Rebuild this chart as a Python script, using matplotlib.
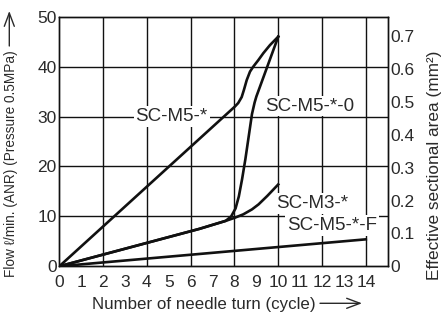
import matplotlib as mpl

mpl.use("Agg")
import matplotlib.pyplot as plt
from matplotlib.patches import FancyArrowPatch

mpl.rcParams.update({"font.family": ["Liberation Sans", "DejaVu Sans"], "font.size": 12.5})

# needle turns / flow (l/min ANR)
m5_x = [0, 8.02, 8.17, 8.33, 8.43, 8.56, 8.71, 8.86, 9.09, 9.32, 9.62, 10.0]
m5_y = [0, 32.0, 32.7, 33.9, 35.3, 37.3, 39.0, 40.0, 41.3, 42.7, 44.3, 46.0]

m50_x = [0, 6.4, 7.6, 7.85, 8.05, 8.2, 8.35, 8.5, 8.65, 8.8, 8.92, 9.0, 10.0]
m50_y = [0, 7.5, 9.1, 10.0, 11.6, 14.0, 17.5, 21.5, 26.0, 30.5, 32.8, 34.0, 46.0]

m3_x = [0, 6.4, 7.6, 8.0, 8.4, 8.8, 9.1, 9.5, 10.0]
m3_y = [0, 7.5, 9.1, 9.7, 10.4, 11.4, 12.4, 14.1, 16.4]

m5f_x = [0, 14.0]
m5f_y = [0, 5.4]

labels = ["SC-M5-*", "SC-M5-*-0", "SC-M3-*", "SC-M5-*-F"]
label_x = [5.13, 11.42, 11.54, 12.45]
label_y = [30.0, 32.1, 12.6, 8.1]

flow_ticks = [0, 10, 20, 30, 40, 50]
area_ticks = [0, 0.1, 0.2, 0.3, 0.4, 0.5, 0.6, 0.7]
turn_ticks = list(range(15))

ink = "#111111"
txt = "#2a2a2a"

fig = plt.figure(figsize=(4.43, 3.18), dpi=100, facecolor="white")
ax = fig.add_axes([0.1339, 0.1626, 0.7413, 0.7849])
ax.set_xlim(0, 15)
ax.set_ylim(0, 50)

for v in range(2, 15, 2):
    ax.axvline(v, color=ink, lw=1.0, zorder=1)
for v in flow_ticks[1:-1]:
    ax.axhline(v, color=ink, lw=1.0, zorder=1)

for xs, ys in [(m5_x, m5_y), (m50_x, m50_y), (m3_x, m3_y), (m5f_x, m5f_y)]:
    ax.plot(xs, ys, color=ink, lw=1.9, solid_joinstyle="round", zorder=3)

for s, x, y in zip(labels, label_x, label_y):
    ax.text(x, y, s, ha="center", va="center", color=txt, fontsize=13.5, zorder=4,
            bbox=dict(boxstyle="square,pad=0.1", fc="white", ec="none"))

ax.set_xticks(turn_ticks)
ax.set_yticks(flow_ticks)
ax.tick_params(axis="x", length=0, pad=6, colors=txt, labelsize=12.5)
ax.tick_params(axis="y", length=0, pad=2, colors=txt, labelsize=12.5)
for sp in ax.spines.values():
    sp.set_linewidth(1.0)
    sp.set_color(ink)

ax2 = ax.twinx()
ax2.set_ylim(0, 0.76)
ax2.set_yticks(area_ticks)
ax2.set_yticklabels(["0"] + [f"{v:.1f}" for v in area_ticks[1:]])
ax2.tick_params(length=0, pad=2, colors=txt, labelsize=12.5)
for sp in ax2.spines.values():
    sp.set_linewidth(1.0)
    sp.set_color(ink)

# axis titles (pixel positions, origin bottom-left)
fig.text(204 / 443, 8.7 / 318, "Number of needle turn (cycle)", ha="center", va="baseline",
         color=txt, fontsize=12.2)
fig.text(15 / 443, 154 / 318, "Flow \u2113/min. (ANR) (Pressure 0.5MPa)", rotation=90,
         rotation_mode="anchor", ha="center", va="baseline", color=txt, fontsize=9.8)
fig.text(439.3 / 443, 153 / 318, "Effective sectional area (mm\u00b2)", rotation=90,
         rotation_mode="anchor", ha="center", va="baseline", color=txt, fontsize=12.4)

arrow = dict(arrowstyle="->,head_length=0.8,head_width=0.3", mutation_scale=12,
             color=txt, lw=1.0, shrinkA=0, shrinkB=0)
fig.add_artist(FancyArrowPatch((320 / 443, 14.7 / 318), (362 / 443, 14.7 / 318),
                               transform=fig.transFigure, **arrow))
fig.add_artist(FancyArrowPatch((9.3 / 443, 272 / 318), (9.3 / 443, 307 / 318),
                               transform=fig.transFigure, **arrow))

fig.savefig("out.png", dpi=100, facecolor="white")
